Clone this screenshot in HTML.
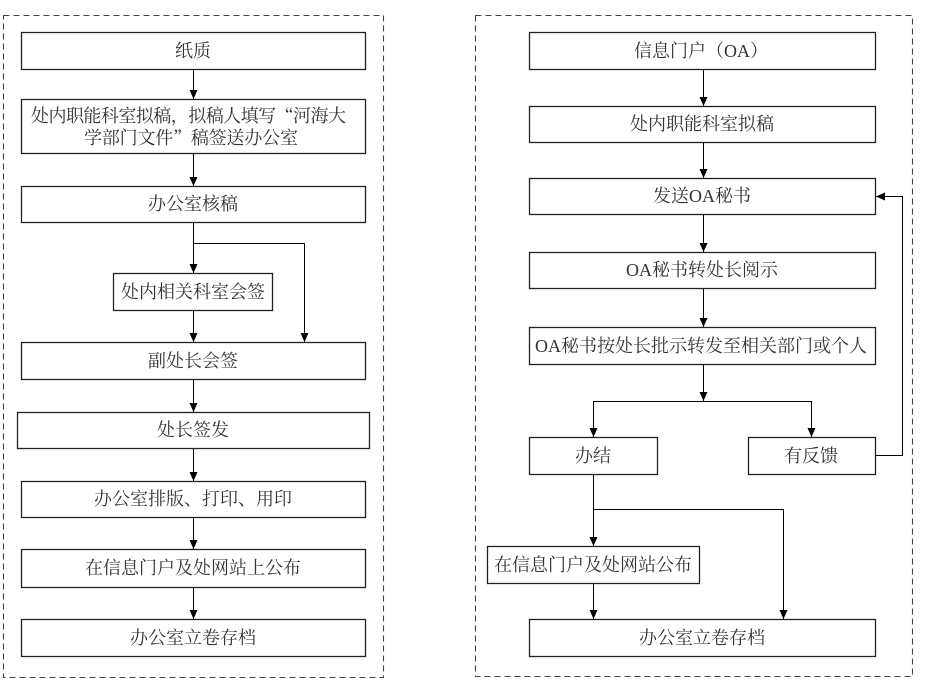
<!DOCTYPE html>
<html><head><meta charset="utf-8"><style>
html,body{margin:0;padding:0;background:#fff;}
svg{display:block;}
text{font-family:"Liberation Serif","Noto Serif CJK SC","Noto Sans CJK SC",serif;font-size:18px;fill:#333;}
.cq{font-family:"Noto Serif CJK SC","Noto Sans CJK SC",serif;}
</style></head><body>
<svg width="931" height="680" viewBox="0 0 931 680" xmlns="http://www.w3.org/2000/svg">
<defs>
<marker id="ah" markerWidth="10" markerHeight="10" refX="9" refY="5" orient="auto" markerUnits="userSpaceOnUse">
<path d="M0,1 L9,5 L0,9 Z" fill="#000"/>
</marker>
</defs>
<!-- dashed frames -->
<rect x="3.5" y="15.5" width="380" height="662" fill="none" stroke="#444" stroke-width="1.1" stroke-dasharray="6,4"/>
<rect x="475.5" y="15.5" width="437" height="661" fill="none" stroke="#444" stroke-width="1.1" stroke-dasharray="6,4"/>

<g fill="#fff" stroke="#222" stroke-width="1.3">
<!-- left -->
<rect x="21.5" y="32.5" width="344" height="37"/>
<rect x="21.5" y="99.5" width="344" height="54"/>
<rect x="21.5" y="186.5" width="344" height="36"/>
<rect x="113.5" y="273.5" width="159" height="37"/>
<rect x="21.5" y="342.5" width="344" height="37"/>
<rect x="17.5" y="412.5" width="352" height="36"/>
<rect x="21.5" y="481.5" width="344" height="36"/>
<rect x="21.5" y="549.5" width="344" height="38"/>
<rect x="21.5" y="619.5" width="344" height="37"/>
<!-- right -->
<rect x="529.5" y="32.5" width="346" height="37"/>
<rect x="529.5" y="106.5" width="346" height="36"/>
<rect x="529.5" y="178.5" width="346" height="36"/>
<rect x="529.5" y="252.5" width="346" height="36"/>
<rect x="529.5" y="327.5" width="346" height="37"/>
<rect x="529.5" y="437.5" width="128" height="37"/>
<rect x="748.5" y="437.5" width="127" height="37"/>
<rect x="487.5" y="546.5" width="212" height="37"/>
<rect x="529.5" y="619.5" width="346" height="37"/>
</g>

<g stroke="#000" stroke-width="1" fill="none">
<!-- left connectors -->
<line x1="193.5" y1="70" x2="193.5" y2="99" marker-end="url(#ah)"/>
<line x1="193.5" y1="154" x2="193.5" y2="186" marker-end="url(#ah)"/>
<line x1="193.5" y1="223" x2="193.5" y2="273" marker-end="url(#ah)"/>
<polyline points="193.5,243.5 304.5,243.5 304.5,342" marker-end="url(#ah)"/>
<line x1="193.5" y1="311" x2="193.5" y2="342" marker-end="url(#ah)"/>
<line x1="193.5" y1="380" x2="193.5" y2="412" marker-end="url(#ah)"/>
<line x1="193.5" y1="449" x2="193.5" y2="481" marker-end="url(#ah)"/>
<line x1="193.5" y1="518" x2="193.5" y2="549" marker-end="url(#ah)"/>
<line x1="193.5" y1="588" x2="193.5" y2="619" marker-end="url(#ah)"/>
<!-- right connectors -->
<line x1="703.5" y1="70" x2="703.5" y2="106" marker-end="url(#ah)"/>
<line x1="703.5" y1="143" x2="703.5" y2="178" marker-end="url(#ah)"/>
<line x1="703.5" y1="215" x2="703.5" y2="252" marker-end="url(#ah)"/>
<line x1="703.5" y1="289" x2="703.5" y2="327" marker-end="url(#ah)"/>
<line x1="703.5" y1="365" x2="703.5" y2="401" marker-end="url(#ah)"/>
<line x1="593" y1="401.5" x2="811" y2="401.5"/>
<line x1="593.5" y1="401" x2="593.5" y2="437" marker-end="url(#ah)"/>
<line x1="811.5" y1="401" x2="811.5" y2="437" marker-end="url(#ah)"/>
<polyline points="876,455.5 902.5,455.5 902.5,196.5 876,196.5" marker-end="url(#ah)"/>
<line x1="593.5" y1="475" x2="593.5" y2="546" marker-end="url(#ah)"/>
<polyline points="593.5,509.5 783.5,509.5 783.5,619" marker-end="url(#ah)"/>
<line x1="593.5" y1="584" x2="593.5" y2="619" marker-end="url(#ah)"/>
</g>

<g text-anchor="middle" dominant-baseline="central">
<!-- left texts -->
<text x="193" y="51">纸质</text>
<text x="31" y="116" text-anchor="start" textLength="315" lengthAdjust="spacing">处内职能科室拟稿，拟稿人填写<tspan class="cq">“</tspan>河海大</text>
<text x="84" y="138" text-anchor="start" textLength="214" lengthAdjust="spacing">学部门文件<tspan class="cq">”</tspan>稿签送办公室</text>
<text x="193" y="204">办公室核稿</text>
<text x="193" y="292">处内相关科室会签</text>
<text x="193" y="361">副处长会签</text>
<text x="193" y="430">处长签发</text>
<text x="193" y="499">办公室排版、打印、用印</text>
<text x="193" y="568">在信息门户及处网站上公布</text>
<text x="193" y="638">办公室立卷存档</text>
<!-- right texts -->
<text x="701" y="51">信息门户（OA）</text>
<text x="702" y="124">处内职能科室拟稿</text>
<text x="702" y="196">发送OA秘书</text>
<text x="702" y="270">OA秘书转处长阅示</text>
<text x="535" y="346" text-anchor="start" textLength="332" lengthAdjust="spacing">OA秘书按处长批示转发至相关部门或个人</text>
<text x="593" y="456">办结</text>
<text x="811" y="456">有反馈</text>
<text x="593" y="565">在信息门户及处网站公布</text>
<text x="702" y="638">办公室立卷存档</text>
</g>
</svg>
</body></html>
